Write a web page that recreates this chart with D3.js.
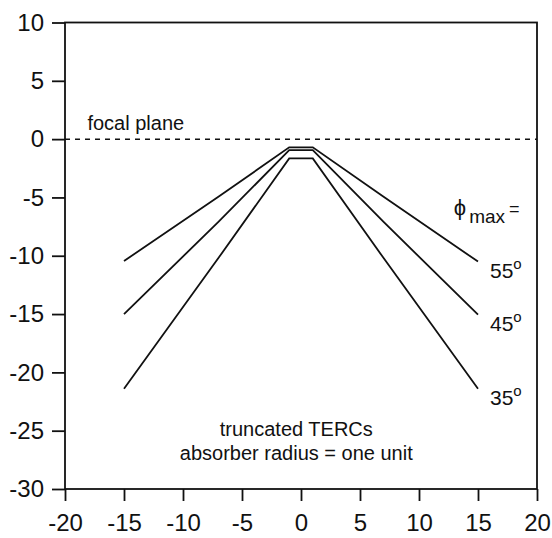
<html>
<head>
<meta charset="utf-8">
<script src="https://d3js.org/d3.v7.min.js"></script>
<style>
    body { margin: 0; background: #fff; }
    text { font-family: "Liberation Sans", Arial, Helvetica, sans-serif; fill: #111; }
    .axis line { stroke: #111; stroke-width: 1.8; }
    .axis .domain { stroke: none; }
</style>
</head>
<body>
<svg id="plot1" width="552" height="538"></svg>
<script>
    // data
    const xValues = [-15, -7, -1, 1, 7, 15];
    const phi55 = [-10.45, -4.95, -0.7, -0.7, -4.95, -10.5];
    const phi45 = [-15.0, -7.1, -0.95, -0.95, -7.1, -15.05];
    const phi35 = [-21.4, -10.2, -1.65, -1.65, -10.2, -21.4];
    const seriesNames = ['55', '45', '35'];
    const xTicks = [-20, -15, -10, -5, 0, 5, 10, 15, 20];
    const yTicks = [10, 5, 0, -5, -10, -15, -20, -25, -30];

    const margin = {left: 65, top: 22.5, bottom: 49, right: 15};
    let svg = d3.select('svg#plot1');
    let inner_width = svg.attr('width') - margin.left - margin.right;
    let inner_height = svg.attr('height') - margin.top - margin.bottom;

    let xscale = d3.scaleLinear().domain([-20, 20]).range([margin.left, margin.left + inner_width]);
    let yscale = d3.scaleLinear().domain([-30, 10]).range([margin.top + inner_height, margin.top]);

    // plain hyphen for negatives, like the original
    const fmt = d => String(d);

    // axes
    svg.append('g')
        .attr('class', 'axis')
        .attr('transform', `translate(${margin.left},0)`)
        .call(d3.axisLeft(yscale).tickValues(yTicks).tickFormat(fmt).tickSize(13).tickSizeOuter(0).tickPadding(8))
        .selectAll('text').style('font-size', '24px');

    svg.append('g')
        .attr('class', 'axis')
        .attr('transform', `translate(0,${margin.top + inner_height})`)
        .call(d3.axisBottom(xscale).tickValues(xTicks).tickFormat(fmt).tickSize(12).tickSizeOuter(0).tickPadding(13))
        .selectAll('text').style('font-size', '24px');

    // frame
    svg.append('rect')
        .attr('x', xscale(-20)).attr('y', yscale(10))
        .attr('width', xscale(20) - xscale(-20))
        .attr('height', yscale(-30) - yscale(10))
        .attr('fill', 'none').attr('stroke', '#111').attr('stroke-width', 1.8);

    // focal plane
    svg.append('line')
        .attr('x1', xscale(-20)).attr('x2', xscale(20))
        .attr('y1', yscale(0)).attr('y2', yscale(0))
        .attr('stroke', '#111').attr('stroke-width', 1.5)
        .attr('stroke-dasharray', '5,5');

    svg.append('text')
        .attr('x', xscale(-18.1)).attr('y', yscale(0.77))
        .style('font-size', '20px')
        .text('focal plane');

    // curves
    let series = [phi55, phi45, phi35];
    let line = d3.line().x((d, i) => xscale(xValues[i])).y(d => yscale(d));

    svg.selectAll('path.curve')
        .data(series)
        .join('path')
        .attr('class', 'curve')
        .attr('d', d => line(d))
        .attr('fill', 'none')
        .attr('stroke', '#111')
        .attr('stroke-width', 1.8);

    // end labels
    let labels = svg.selectAll('text.angle')
        .data(series)
        .join('text')
        .attr('class', 'angle')
        .attr('x', xscale(15) + 12)
        .attr('y', d => yscale(d[d.length - 1]) + 16)
        .style('font-size', '21px');
    labels.append('tspan').text((d, i) => seriesNames[i]);
    labels.append('tspan').attr('dy', -9).style('font-size', '15px').text('o');

    // phi max =
    let phi = svg.append('text')
        .attr('x', xscale(12.95)).attr('y', yscale(-6.5))
        .style('font-size', '22px');
    phi.append('tspan').text('\u03d5');
    phi.append('tspan').attr('dx', 3).attr('dy', 8).style('font-size', '19px').text('max');
    phi.append('tspan').attr('dx', 4).attr('dy', -8).style('font-size', '18px').text('=');

    // note
    svg.append('text')
        .attr('x', xscale(-0.4)).attr('y', 435.5)
        .attr('text-anchor', 'middle')
        .style('font-size', '20px')
        .text('truncated TERCs');
    svg.append('text')
        .attr('x', xscale(-0.4)).attr('y', 460)
        .attr('text-anchor', 'middle')
        .style('font-size', '20px')
        .text('absorber radius = one unit');
</script>
</body>
</html>
